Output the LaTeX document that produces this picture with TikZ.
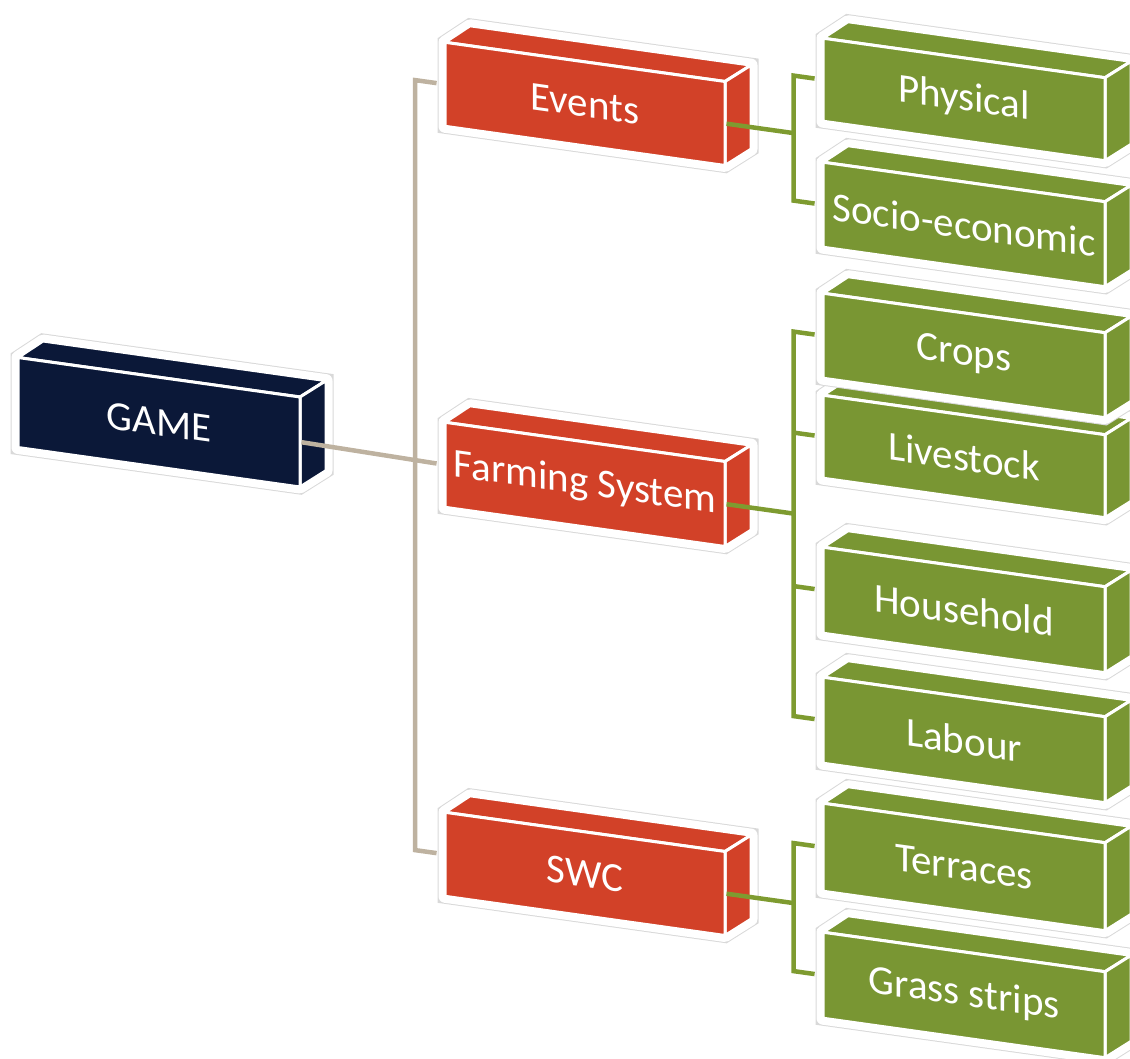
\documentclass[tikz,border=0pt]{standalone}
\usepackage{fontspec}
\setmainfont{Carlito}
\usetikzlibrary{calc}
\definecolor{gmnavy}{RGB}{11,24,56}
\definecolor{gmred}{RGB}{210,65,40}
\definecolor{gmgreen}{RGB}{121,150,51}
\definecolor{gmtan}{RGB}{190,178,160}
\definecolor{gmtwig}{RGB}{126,155,48}
\tikzset{
  halo/.style={draw=white, fill=white, line width=13pt, line join=round,
    preaction={draw=gray!30, line width=15pt}},
  face/.style={draw=white, line width=3pt, line join=round},
  front/.style={face, text=white, inner sep=0pt, font=\fontsize{41}{46}\selectfont},
  stem/.style={gmtan, line width=4.5pt},
  twig/.style={gmtwig, line width=4.5pt}
}
% cuboid: name, colour, left, top, width, height, label
\newcommand{\cuboid}[7]{%
  \draw[halo] (#3,#4+#6) -- (#3,#4) -- ++(25,-20) -- ++(#5+1,0) -- ++(0,#6) -- (#3+#5,#4+#6) -- cycle;
  \filldraw[face, fill=#2] (#3,#4) -- ++(25,-20) -- ++(#5+1,0) -- (#3+#5,#4) -- cycle;
  \filldraw[face, fill=#2] (#3+#5,#4) -- ++(26,-20) -- ++(0,#6) -- (#3+#5,#4+#6) -- cycle;
  \node[front, fill=#2, minimum width=#5pt, minimum height=#6pt] (#1) at (#3+#5/2,#4+#6/2) {#7};
}

\begin{document}
\begin{tikzpicture}[x=1pt, y=-1pt]
  \useasboundingbox (0,0) rectangle (1130,1059);
  \begin{scope}[yslant=-0.14, transform shape]
    \cuboid{game}{gmnavy}{18}{355}{282}{90}{GAME}
    \cuboid{events}{gmred}{445}{-20}{280}{84}{Events}
    \cuboid{farming}{gmred}{445}{360}{280}{85}{Farming System}
    \cuboid{swc}{gmred}{445}{750}{280}{84}{SWC}
    % leaves, lowest first
    \cuboid{grass}{gmgreen}{823}{817}{282}{86}{Grass strips}
    \cuboid{terraces}{gmgreen}{823}{688}{282}{88}{Terraces}
    \cuboid{labour}{gmgreen}{823}{562}{282}{86}{Labour}
    \cuboid{household}{gmgreen}{823}{432}{282}{86}{Household}
    \cuboid{livestock}{gmgreen}{823}{280}{282}{83}{Livestock}
    \cuboid{crops}{gmgreen}{823}{178}{282}{85}{Crops}
    \cuboid{socio}{gmgreen}{823}{47}{282}{85}{Socio-economic}
    \cuboid{physical}{gmgreen}{823}{-77}{282}{83}{Physical}

    \coordinate (spine) at (415,400);
    \draw[stem, shorten <=7pt, shorten >=7pt] (events.west) -| (spine) |- (swc.west);
    \draw[stem, shorten >=7pt] (game.east) -- (farming.west);

    \draw[twig] (events.east) -- ++(67,0) coordinate (evfork);
    \draw[twig, shorten <=7pt, shorten >=7pt] (physical.west) -| (evfork) |- (socio.west);
    \draw[twig] (farming.east) -- ++(67,0) coordinate (fsfork);
    \draw[twig, shorten <=7pt, shorten >=7pt] (crops.west) -| (fsfork) |- (labour.west);
    \draw[twig, shorten >=7pt] (fsfork |- livestock.west) -- (livestock.west);
    \draw[twig, shorten >=7pt] (fsfork |- household.west) -- (household.west);
    \draw[twig] (swc.east) -- ++(67,0) coordinate (swcfork);
    \draw[twig, shorten <=7pt, shorten >=7pt] (terraces.west) -| (swcfork) |- (grass.west);
  \end{scope}
\end{tikzpicture}
\end{document}
